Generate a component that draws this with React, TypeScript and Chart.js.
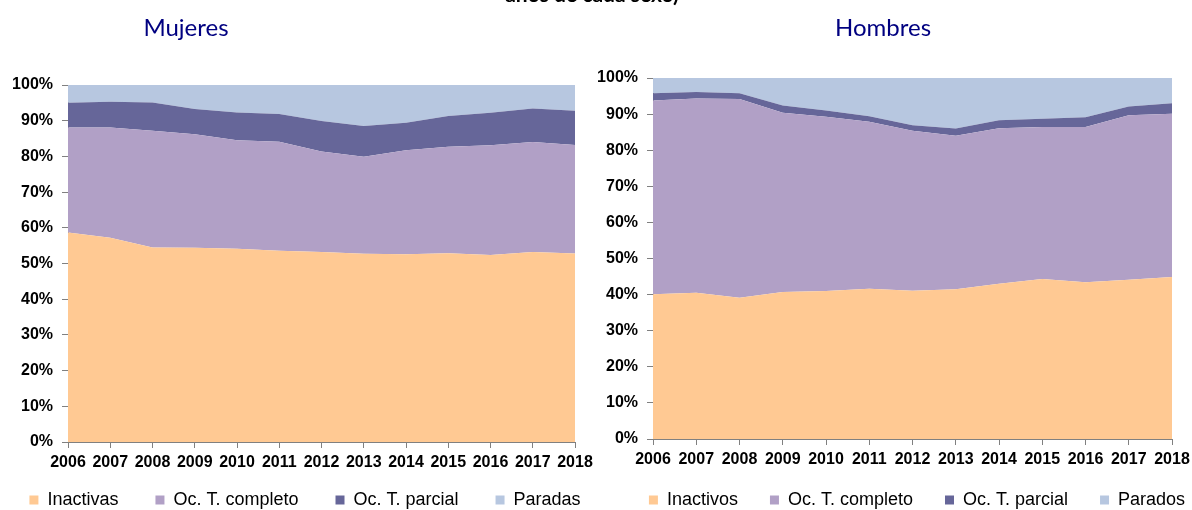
import React, { useEffect, useRef } from "react";
import { Chart, registerables } from "chart.js";

Chart.register(...registerables);

const years = ["2006","2007","2008","2009","2010","2011","2012","2013","2014","2015","2016","2017","2018"];
const yTicks = [0, 10, 20, 30, 40, 50, 60, 70, 80, 90, 100];

// Mujeres (%)
const mujInactivas = [58.7, 57.2, 54.5, 54.4, 54.1, 53.6, 53.2, 52.7, 52.6, 52.9, 52.4, 53.2, 52.8];
const mujCompleto = [29.4, 30.9, 32.7, 31.8, 30.4, 30.5, 28.2, 27.2, 29.1, 29.8, 30.7, 30.8, 30.4];
const mujParcial = [6.9, 7.2, 7.9, 7.1, 7.8, 7.8, 8.5, 8.6, 7.7, 8.6, 9.1, 9.4, 9.6];
const mujParadas = [5.0, 4.7, 4.9, 6.7, 7.7, 8.1, 10.1, 11.5, 10.6, 8.7, 7.8, 6.6, 7.2];

// Hombres (%)
const homInactivos = [40.1, 40.5, 39.1, 40.7, 41.0, 41.6, 41.1, 41.5, 43.0, 44.3, 43.4, 44.1, 44.9];
const homCompleto = [53.7, 53.8, 55.1, 49.7, 48.3, 46.3, 44.3, 42.5, 43.1, 42.1, 43.0, 45.6, 45.2];
const homParcial = [2.0, 1.8, 1.6, 2.0, 1.7, 1.5, 1.5, 2.0, 2.2, 2.3, 2.7, 2.4, 2.9];
const homParados = [4.2, 3.9, 4.2, 7.6, 9.0, 10.6, 13.1, 14.0, 11.7, 11.3, 10.9, 7.9, 7.0];

const mujLabels = ["Inactivas", "Oc. T. completo", "Oc. T. parcial", "Paradas"];
const homLabels = ["Inactivos", "Oc. T. completo", "Oc. T. parcial", "Parados"];

const COL_INACT = "#FFC993";
const COL_COMP = "#B1A0C6";
const COL_PARC = "#666699";
const COL_PARO = "#B7C7E0";
const AXIS_COL = "#808080";

type Cfg = {
  labels: string[];
  series: number[][];
  top: number;
  yWidth: number;
  xHeight: number;
  padRight: number;
  extraSpaces: number;
};

function makeChart(canvas: HTMLCanvasElement, c: Cfg) {
  const colors = [COL_INACT, COL_COMP, COL_PARC, COL_PARO];
  const datasets = c.series.map((d, i) => ({
    label: c.labels[i],
    data: d,
    backgroundColor: colors[i],
    borderColor: colors[i],
    borderWidth: 0,
    pointRadius: 0,
    pointHoverRadius: 0,
    tension: 0,
    fill: i === 0 ? "origin" : "-1",
  }));
  const tickFont = { family: "'Liberation Sans', Arial, sans-serif", size: 16, weight: "bold" as const };
  const pad = " ".repeat(c.extraSpaces);
  return new Chart(canvas, {
    type: "line",
    data: { labels: years, datasets },
    options: {
      animation: false,
      responsive: false,
      devicePixelRatio: 1,
      layout: { padding: { top: c.top, left: 0, right: 0, bottom: 0 } },
      plugins: {
        tooltip: { enabled: false },
        title: { display: false },
        legend: {
          display: true,
          position: "bottom",
          labels: {
            boxWidth: 9,
            boxHeight: 9,
            padding: 17,
            color: "#000",
            font: { family: "'Liberation Sans', Arial, sans-serif", size: 18 },
            generateLabels: (chart: any) => {
              const items = Chart.defaults.plugins.legend.labels.generateLabels(chart);
              return items.map((it: any, i: number) => ({
                ...it,
                lineWidth: 0,
                text: i < items.length - 1 ? it.text + pad : it.text,
              }));
            },
          },
        },
      },
      scales: {
        x: {
          type: "category",
          offset: false,
          grid: { display: true, drawOnChartArea: false, drawTicks: true, tickLength: 6, color: AXIS_COL, offset: false },
          border: { display: true, color: AXIS_COL, width: 1 },
          ticks: { autoSkip: false, maxRotation: 0, minRotation: 0, padding: 5, color: "#000", font: tickFont },
          afterFit: (s: any) => {
            s.height = c.xHeight;
            s.paddingRight = c.padRight;
          },
        },
        y: {
          stacked: true,
          min: 0,
          max: 100,
          afterBuildTicks: (s: any) => {
            s.ticks = yTicks.map((v) => ({ value: v }));
          },
          grid: { display: true, drawOnChartArea: false, drawTicks: true, tickLength: 6, color: AXIS_COL },
          border: { display: true, color: AXIS_COL, width: 1 },
          ticks: {
            padding: 9,
            color: "#000",
            font: tickFont,
            callback: (v: any) => v + "%",
          },
          afterFit: (s: any) => {
            s.width = c.yWidth;
          },
        },
      },
    },
  });
}

function ChartBox(props: { left: number; cfg: Cfg }) {
  const ref = useRef<HTMLCanvasElement | null>(null);
  useEffect(() => {
    if (!ref.current) return;
    const ch = makeChart(ref.current, props.cfg);
    return () => ch.destroy();
  }, []);
  return (
    <canvas
      ref={ref}
      width={640}
      height={519}
      style={{ position: "absolute", left: props.left, top: 0, width: 640, height: 519 }}
    />
  );
}

export default function App() {
  const titleStyle: React.CSSProperties = {
    position: "absolute",
    top: 12,
    width: 200,
    textAlign: "center",
    fontFamily: "Lato, 'Open Sans', sans-serif",
    fontSize: 24,
    lineHeight: "30px",
    color: "#000080",
  };
  return (
    <div style={{ position: "fixed", left: 0, top: 0, width: 1192, height: 510, overflow: "hidden", background: "#fff" }}>
      <ChartBox
        left={-15}
        cfg={{
          labels: mujLabels,
          series: [mujInactivas, mujCompleto, mujParcial, mujParadas],
          top: 85,
          yWidth: 83,
          xHeight: 32,
          padRight: 50,
          extraSpaces: 4,
        }}
      />
      <ChartBox
        left={597}
        cfg={{
          labels: homLabels,
          series: [homInactivos, homCompleto, homParcial, homParados],
          top: 78,
          yWidth: 56,
          xHeight: 35,
          padRight: 65,
          extraSpaces: 3,
        }}
      />
      <div
        style={{
          position: "absolute",
          left: 392,
          width: 400,
          top: -17,
          textAlign: "center",
          fontFamily: "Lato, 'Open Sans', sans-serif",
          fontWeight: 700,
          fontSize: 21,
          lineHeight: "21px",
          color: "#000",
          whiteSpace: "nowrap",
        }}
      >
        años de cada sexo)
      </div>
      <div style={{ ...titleStyle, left: 86 }}>Mujeres</div>
      <div style={{ ...titleStyle, left: 783 }}>Hombres</div>
    </div>
  );
}
